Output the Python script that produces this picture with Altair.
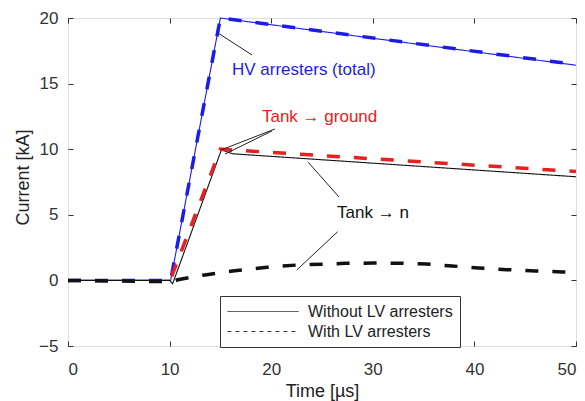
import altair as alt
import pandas as pd

# Currents in kA against time in µs
hv_t = [0, 10.1, 15, 50]
hv_without = [0, 0, 20, 16.4]
hv_with = [0, 0, 20, 16.45]

tank_n_without_t = [0, 10, 10.3, 15.1, 16.2, 50]
tank_n_without = [0, 0, -0.25, 9.95, 9.65, 7.9]

tank_gnd_with_t = [10.2, 15, 50]
tank_gnd_with = [0.3, 10, 8.3]

tank_n_with_t = [0, 10.3, 10.8, 13.3, 16.4, 19.6, 22.5, 27.3, 30, 33, 35.3,
                 37.8, 40.4, 43.2, 46, 48.7, 50]
tank_n_with = [0, -0.1, 0.05, 0.4, 0.74, 1.0, 1.17, 1.3, 1.32, 1.3, 1.25,
               1.1, 0.95, 0.82, 0.72, 0.64, 0.6]

cases = ["Without LV arresters", "With LV arresters"]
BLUE, RED, BLACK = "#1c1ce8", "#e82020", "#111111"

# annotation texts and their leader lines
label_text = ["HV arresters (total)", "Tank \u2192 ground", "Tank \u2192 n"]
label_t = [16.14, 19.09, 26.48]
label_v = [16.04, 12.45, 5.14]
label_color = [BLUE, RED, BLACK]

lead_t = [14.76, 20.37, 20.08, 23.62, 26.54]
lead_v = [18.86, 11.54, 11.39, 9.02, 3.71]
lead_t2 = [18.11, 15.06, 15.45, 26.67, 22.51]
lead_v2 = [17.18, 9.94, 9.63, 6.36, 0.79]


def trace(name, case, color, ts, vs):
    return pd.DataFrame({"trace": name, "case": case, "color": color, "t": ts, "v": vs})


solid_df = pd.concat([
    trace("hv", cases[0], BLUE, hv_t, hv_without),
    trace("tank_n", cases[0], BLACK, tank_n_without_t, tank_n_without),
])
dashed_df = pd.concat([
    trace("hv", cases[1], BLUE, hv_t, hv_with),
    trace("tank_gnd", cases[1], RED, tank_gnd_with_t, tank_gnd_with),
    trace("tank_n", cases[1], BLACK, tank_n_with_t, tank_n_with),
])
labels_df = pd.DataFrame({"text": label_text, "t": label_t, "v": label_v, "color": label_color})
leads_df = pd.DataFrame({"t": lead_t, "v": lead_v, "t2": lead_t2, "v2": lead_v2})

FONT = "Liberation Sans"
xs = alt.Scale(domain=[0, 50], nice=False, zero=False)
ys = alt.Scale(domain=[-5, 20], nice=False, zero=False)

x_main = alt.Axis(orient="bottom", values=[0, 10, 20, 30, 40, 50], tickSize=0, domain=False,
                  grid=False, labelPadding=15, labelFontSize=17, labelColor="#333333",
                  labelFont=FONT, title="Time [µs]", titleFont=FONT, titleFontSize=18,
                  titleFontWeight="normal", titleColor="#222222",
                  titleBaseline="alphabetic", titleY=50, titleX=254)
y_main = alt.Axis(orient="left", values=[-5, 0, 5, 10, 15, 20], tickSize=0, domain=False,
                  grid=False, labelPadding=10, labelFontSize=17, labelColor="#333333",
                  labelFont=FONT, title="Current [kA]", titleFont=FONT, titleFontSize=18,
                  titleFontWeight="normal", titleColor="#222222",
                  titleBaseline="alphabetic", titleX=-40, titleY=159, titleAngle=270)

# wide horizontal stroke as the legend swatch
swatch = "M-1,0H7.9"
dash_legend = alt.Legend(
    title=None, orient="none", legendX=152, legendY=278, symbolType=swatch,
    symbolSize=256, symbolStrokeWidth=0.9, symbolStrokeColor="#222222",
    labelFont=FONT, labelFontSize=16, labelColor="#222222", strokeColor="#333333",
    fillColor="white", padding=7, rowPadding=3, labelOffset=64,
)

solid = alt.Chart(solid_df).mark_line(strokeWidth=1.1).encode(
    x=alt.X("t:Q", scale=xs, axis=x_main),
    y=alt.Y("v:Q", scale=ys, axis=y_main),
    color=alt.Color("color:N", scale=None),
    detail="trace:N",
    strokeDash=alt.StrokeDash("case:N", scale=alt.Scale(domain=cases, range=[[1, 0], [4, 4]]),
                              legend=dash_legend),
)
dashed = alt.Chart(dashed_df).mark_line(strokeWidth=3.5, strokeDash=[13, 14]).encode(
    x=alt.X("t:Q", scale=xs, axis=None),
    y=alt.Y("v:Q", scale=ys, axis=None),
    color=alt.Color("color:N", scale=None),
    detail="trace:N",
)
leads = alt.Chart(leads_df).mark_rule(color="#222222", strokeWidth=1).encode(
    x=alt.X("t:Q", scale=xs, axis=None), y=alt.Y("v:Q", scale=ys, axis=None),
    x2="t2:Q", y2="v2:Q",
)
texts = alt.Chart(labels_df).mark_text(align="left", baseline="middle", font=FONT,
                                        fontSize=17).encode(
    x=alt.X("t:Q", scale=xs, axis=None), y=alt.Y("v:Q", scale=ys, axis=None),
    text="text:N", color=alt.Color("color:N", scale=None),
)


def tick_layer(xo, yo):
    return alt.Chart(solid_df).mark_point(opacity=0).encode(
        x=alt.X("t:Q", scale=xs, axis=alt.Axis(orient=xo, values=[0, 10, 20, 30, 40, 50],
                                                 offset=-5, tickSize=5, labels=False,
                                                 domain=False, grid=False, title=None,
                                                 tickColor="#333333")),
        y=alt.Y("v:Q", scale=ys, axis=alt.Axis(orient=yo, values=[-5, 0, 5, 10, 15, 20],
                                                 offset=-5, tickSize=5, labels=False,
                                                 domain=False, grid=False, title=None,
                                                 tickColor="#333333")),
    )


chart = alt.layer(
    solid, tick_layer("bottom", "left"), tick_layer("top", "right"), dashed, leads, texts
).resolve_axis(x="independent", y="independent").properties(
    width=508, height=328,
    autosize=alt.AutoSizeParams(type="none"),
    padding={"left": 68, "top": 18, "right": 9, "bottom": 55},
).configure_view(stroke="#333333", strokeWidth=1).configure(background="white")

chart.save("out.html", embed_options={"renderer": "svg", "actions": False})
